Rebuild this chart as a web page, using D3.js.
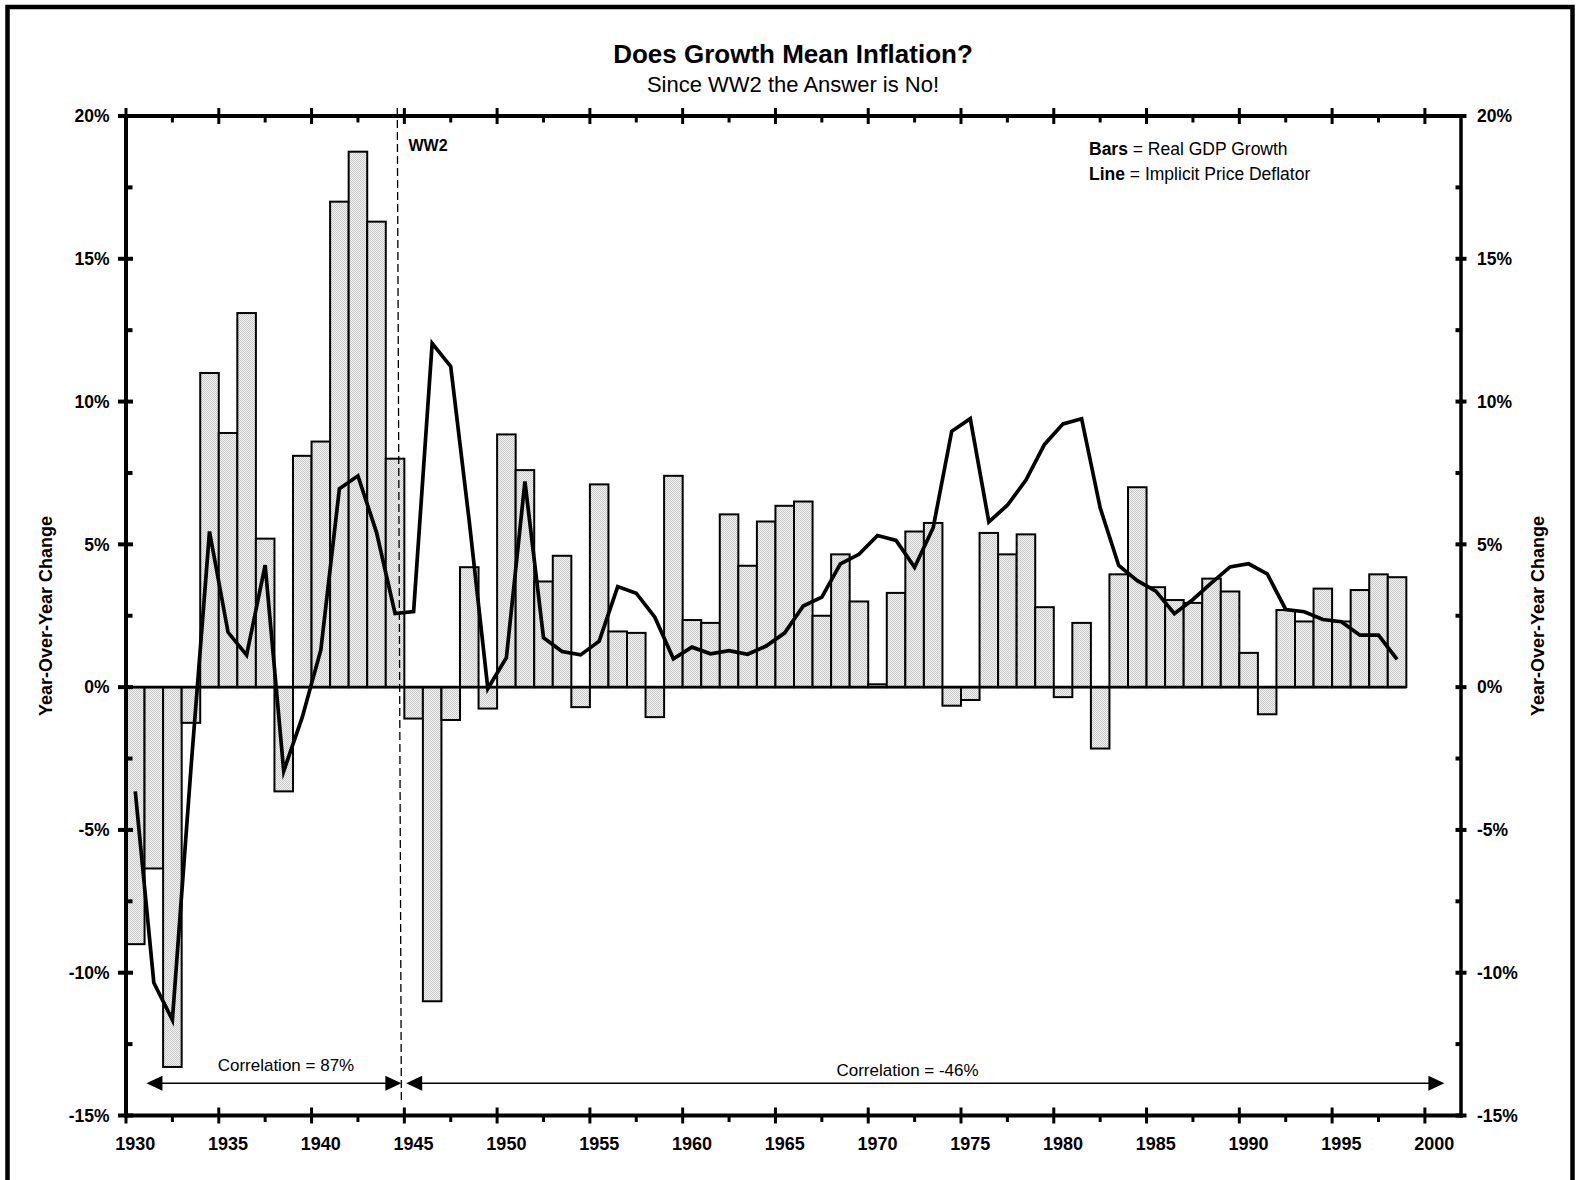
<!DOCTYPE html>
<html>
<head>
<meta charset="utf-8">
<title>Does Growth Mean Inflation?</title>
<script src="https://cdn.jsdelivr.net/npm/d3@7/dist/d3.min.js"></script>
<style>
  html, body { margin: 0; padding: 0; background: #fff; }
  svg { display: block; }
  text { font-family: "Liberation Sans", Arial, Helvetica, sans-serif; fill: #000; }
</style>
</head>
<body>
<svg id="chart" width="1577" height="1180"></svg>
<script>
// Calendar years shown as bars and line points
const years = d3.range(1930, 1999);

// Real GDP growth, % year over year (bars)
const realGdpGrowth = [
  -9.0, -6.35, -13.3, -1.25, 11.0, 8.9, 13.1, 5.2, -3.65, 8.1,
  8.6, 17.0, 18.75, 16.3, 8.0, -1.1, -11.0, -1.15, 4.2, -0.75,
  8.85, 7.6, 3.7, 4.6, -0.7, 7.1, 1.95, 1.9, -1.05, 7.4,
  2.35, 2.25, 6.05, 4.25, 5.8, 6.35, 6.5, 2.5, 4.65, 3.0,
  0.1, 3.3, 5.45, 5.75, -0.65, -0.45, 5.4, 4.65, 5.35, 2.8,
  -0.35, 2.25, -2.15, 3.95, 7.0, 3.5, 3.05, 2.95, 3.8, 3.35,
  1.2, -0.95, 2.7, 2.3, 3.45, 2.3, 3.4, 3.95, 3.85
];

// Implicit price deflator, % year over year (line)
const priceDeflator = [
  -3.65, -10.35, -11.65, -2.85, 5.45, 1.92, 1.12, 4.27, -2.94, -1.05,
  1.3, 6.95, 7.4, 5.42, 2.58, 2.65, 12.04, 11.23, 5.8, -0.05,
  1.03, 7.2, 1.73, 1.25, 1.13, 1.61, 3.52, 3.29, 2.45, 0.99,
  1.4, 1.17, 1.28, 1.15, 1.44, 1.9, 2.84, 3.15, 4.32, 4.65,
  5.31, 5.14, 4.2, 5.58, 8.96, 9.4, 5.79, 6.37, 7.25, 8.5,
  9.22, 9.4, 6.28, 4.26, 3.73, 3.36, 2.57, 3.07, 3.65, 4.21,
  4.32, 3.97, 2.72, 2.64, 2.37, 2.29, 1.82, 1.82, 0.97
];

// Axis ticks and labels
const xTickYears = d3.range(1930, 2001, 5);
const xTickLabels = xTickYears.map(String);
const xMinorYears = d3.range(1932.5, 2000, 5);
const yTickValues = [20, 15, 10, 5, 0, -5, -10, -15];
const yTickLabels = ["20%", "15%", "10%", "5%", "0%", "-5%", "-10%", "-15%"];
const yMinorValues = [17.5, 12.5, 7.5, 2.5, -2.5, -7.5, -12.5];

// Annotations
const titleText = "Does Growth Mean Inflation?";
const subtitleText = "Since WW2 the Answer is No!";
const axisTitle = "Year-Over-Year Change";
const legendRows = [["Bars", " = Real GDP Growth"], ["Line", " = Implicit Price Deflator"]];
const warMarker = { label: "WW2", top: 1944.62, bottom: 1944.84 };
const correlationSpans = [
  { label: "Correlation = 87%", from: 1931.1, to: 1944.84, labelAt: 1938.62, labelY: 1071 },
  { label: "Correlation = -46%", from: 1945.1, to: 2001.05, labelAt: 1972.12, labelY: 1075.7 }
];

const svg = d3.select("#chart");
const W = 1577, H = 1180;
const plot = { left: 126, right: 1461, top: 116, bottom: 1115.5 };

const x = d3.scaleLinear().domain([1930, 2002]).range([126, 1462]);
const y = d3.scaleLinear().domain([-15, 20]).range([plot.bottom, plot.top]);

svg.append("rect").attr("width", W).attr("height", H).attr("fill", "#fff");

// stippled grey fill for the bars
const defs = svg.append("defs");
const pat = defs.append("pattern")
  .attr("id", "stipple").attr("patternUnits", "userSpaceOnUse")
  .attr("width", 2).attr("height", 2);
pat.append("rect").attr("width", 2).attr("height", 2).attr("fill", "#f2f2f2");
pat.append("rect").attr("x", 0).attr("y", 0).attr("width", 1).attr("height", 1).attr("fill", "#c9c9c9");
pat.append("rect").attr("x", 1).attr("y", 1).attr("width", 1).attr("height", 1).attr("fill", "#c9c9c9");

// outer frame
svg.append("rect")
  .attr("x", 7.5).attr("y", 7).attr("width", 1565).attr("height", 1400)
  .attr("fill", "none").attr("stroke", "#000").attr("stroke-width", 4.5);

// titles
svg.append("text").attr("x", 793).attr("y", 63).attr("text-anchor", "middle")
  .attr("font-size", 26).attr("font-weight", "bold").text(titleText);
svg.append("text").attr("x", 793).attr("y", 91.5).attr("text-anchor", "middle")
  .attr("font-size", 22).text(subtitleText);

// bars
const rows = years.map((yr, i) => ({ year: yr, gdp: realGdpGrowth[i], defl: priceDeflator[i] }));
svg.append("g").selectAll("rect").data(rows).join("rect")
  .attr("x", d => x(d.year))
  .attr("width", d => x(d.year + 1) - x(d.year))
  .attr("y", d => y(Math.max(0, d.gdp)))
  .attr("height", d => Math.abs(y(d.gdp) - y(0)))
  .attr("fill", "url(#stipple)")
  .attr("stroke", "#000").attr("stroke-width", 2);

// zero baseline under the bars
svg.append("line")
  .attr("x1", plot.left).attr("x2", x(years[years.length - 1] + 1))
  .attr("y1", y(0)).attr("y2", y(0))
  .attr("stroke", "#000").attr("stroke-width", 2.6);

// WW2 divider
svg.append("line")
  .attr("x1", x(warMarker.top)).attr("y1", 108)
  .attr("x2", x(warMarker.bottom)).attr("y2", 1103)
  .attr("stroke", "#000").attr("stroke-width", 1.3).attr("stroke-dasharray", "8,4");
svg.append("text").attr("x", 408.5).attr("y", 150.5)
  .attr("font-size", 16).attr("font-weight", "bold").text(warMarker.label);

// price deflator line
const line = d3.line().x(d => x(d.year + 0.5)).y(d => y(d.defl));
svg.append("path").datum(rows).attr("d", line)
  .attr("fill", "none").attr("stroke", "#000").attr("stroke-width", 3.7)
  .attr("stroke-linejoin", "miter").attr("stroke-miterlimit", 6);

// axes frame
const axisG = svg.append("g").attr("stroke", "#000");
axisG.append("line").attr("x1", plot.left - 2).attr("x2", plot.right + 2)
  .attr("y1", plot.top).attr("y2", plot.top).attr("stroke-width", 4);
axisG.append("line").attr("x1", plot.left - 2).attr("x2", plot.right + 2)
  .attr("y1", plot.bottom).attr("y2", plot.bottom).attr("stroke-width", 4);
axisG.append("line").attr("x1", plot.left).attr("x2", plot.left)
  .attr("y1", plot.top - 2).attr("y2", plot.bottom + 2).attr("stroke-width", 4);
axisG.append("line").attr("x1", plot.right).attr("x2", plot.right)
  .attr("y1", plot.top - 2).attr("y2", plot.bottom + 2).attr("stroke-width", 3.5);

// x ticks: major crossing the axis, minor hanging below it (top and bottom)
[plot.top, plot.bottom].forEach(ay => {
  axisG.append("g").selectAll("line").data(xTickYears).join("line")
    .attr("x1", d => x(d)).attr("x2", d => x(d))
    .attr("y1", ay - 8).attr("y2", ay + 8).attr("stroke-width", 3);
  axisG.append("g").selectAll("line").data(xMinorYears).join("line")
    .attr("x1", d => x(d)).attr("x2", d => x(d))
    .attr("y1", ay).attr("y2", ay + 6.5).attr("stroke-width", 3);
});

// y ticks left
axisG.append("g").selectAll("line").data(yTickValues).join("line")
  .attr("x1", plot.left - 8).attr("x2", plot.left + 7)
  .attr("y1", d => y(d)).attr("y2", d => y(d)).attr("stroke-width", 4);
axisG.append("g").selectAll("line").data(yMinorValues).join("line")
  .attr("x1", plot.left).attr("x2", plot.left + 6.5)
  .attr("y1", d => y(d)).attr("y2", d => y(d)).attr("stroke-width", 4);
// y ticks right
axisG.append("g").selectAll("line").data(yTickValues).join("line")
  .attr("x1", plot.right - 5.5).attr("x2", plot.right + 5.5)
  .attr("y1", d => y(d)).attr("y2", d => y(d)).attr("stroke-width", 4);
axisG.append("g").selectAll("line").data(yMinorValues).join("line")
  .attr("x1", plot.right - 5.5).attr("x2", plot.right)
  .attr("y1", d => y(d)).attr("y2", d => y(d)).attr("stroke-width", 4);

// tick labels
svg.append("g").selectAll("text").data(xTickYears).join("text")
  .attr("x", d => x(d + 0.5)).attr("y", 1149.5)
  .attr("text-anchor", "middle").attr("font-size", 18).attr("font-weight", "bold")
  .text((d, i) => xTickLabels[i]);
svg.append("g").selectAll("text").data(yTickValues).join("text")
  .attr("x", 109.5).attr("y", d => y(d) + 6.3)
  .attr("text-anchor", "end").attr("font-size", 17.5).attr("font-weight", "bold")
  .text((d, i) => yTickLabels[i]);
svg.append("g").selectAll("text").data(yTickValues).join("text")
  .attr("x", 1477).attr("y", d => y(d) + 6.3)
  .attr("text-anchor", "start").attr("font-size", 17.5).attr("font-weight", "bold")
  .text((d, i) => yTickLabels[i]);

// axis titles
[52, 1543.5].forEach(bx => {
  svg.append("text")
    .attr("transform", `translate(${bx},616) rotate(-90)`)
    .attr("text-anchor", "middle").attr("font-size", 18).attr("font-weight", "bold")
    .text(axisTitle);
});

// legend
legendRows.forEach((r, i) => {
  const t = svg.append("text").attr("x", 1089).attr("y", 155 + i * 25).attr("font-size", 17.5);
  t.append("tspan").attr("font-weight", "bold").text(r[0]);
  t.append("tspan").text(r[1]);
});

// correlation spans with arrowheads
const arrowY = 1083.3, headL = 16, headW = 7.5;
correlationSpans.forEach(s => {
  const a = x(s.from), b = x(s.to);
  svg.append("line").attr("x1", a + headL - 1).attr("x2", b - headL + 1)
    .attr("y1", arrowY).attr("y2", arrowY).attr("stroke", "#000").attr("stroke-width", 1.4);
  svg.append("path").attr("d", `M${a},${arrowY}L${a + headL},${arrowY - headW}L${a + headL},${arrowY + headW}Z`).attr("fill", "#000");
  svg.append("path").attr("d", `M${b},${arrowY}L${b - headL},${arrowY - headW}L${b - headL},${arrowY + headW}Z`).attr("fill", "#000");
  svg.append("text").attr("x", x(s.labelAt)).attr("y", s.labelY)
    .attr("text-anchor", "middle").attr("font-size", 17).text(s.label);
});
</script>
</body>
</html>
